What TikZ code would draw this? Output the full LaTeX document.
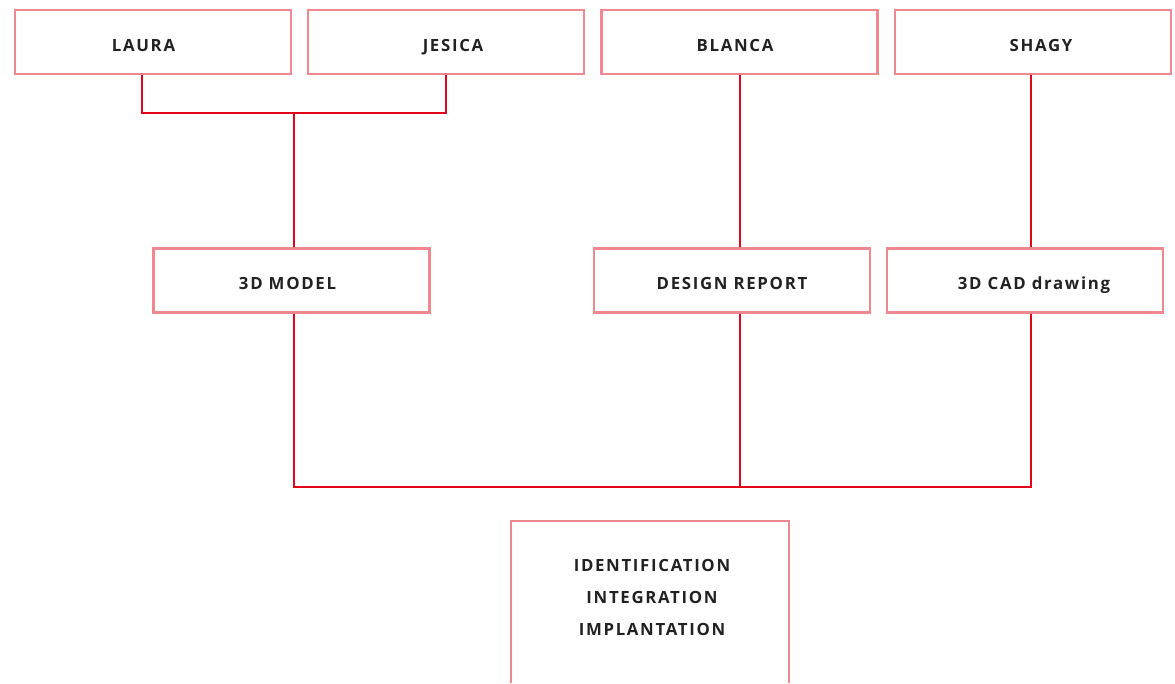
\documentclass[tikz,border=0pt]{standalone}
\usepackage{fontspec}
\setmainfont{Open Sans}[LetterSpace=10]
\usetikzlibrary{calc}
\definecolor{boxpink}{HTML}{F2888F}
\definecolor{linkred}{HTML}{E2061B}
\definecolor{txtgray}{HTML}{222222}
\tikzset{
    stage/.style={draw=boxpink, line width=2.4pt, minimum width=276pt, minimum height=64pt,
      text=txtgray, font=\fontsize{16.8}{32}\selectfont\bfseries},
    single/.style={text height=18pt, text depth=0pt},
    nudge/.style={execute at begin node={\hspace*{#1}}},
    link/.style={draw=linkred, line width=2.2pt},
  }
\begin{document}
\begin{tikzpicture}[x=1pt,y=-1pt]
    \useasboundingbox (0,0) rectangle (1175,683);
    %PEOPLE
    \node[stage,single,nudge=-19pt] (laura) at (153,42) {LAURA};
    \node[stage,single,nudge=14pt] (jesica) at (446,42) {JESICA};
    \node[stage,single,nudge=-9pt] (blanca) at (739.5,42) {BLANCA};
    \node[stage,single,nudge=16pt] (shagy) at (1033,42) {SHAGY};
    
    %OUTPUTS
    \node[stage,single,nudge=-8pt] (model) at (291.5,280.5) {3D MODEL};
    \node[stage,single] (report) at (732,280.5) {DESIGN REPORT};
    \node[stage,single,nudge=18pt] (cad) at (1025,280.5) {3D CAD drawing};
    
    %RESULT (open at the bottom)
    \node[stage, draw=none, align=center] (result) at (652,597) {IDENTIFICATION\\INTEGRATION\\IMPLANTATION};
    \draw[boxpink, line width=2.4pt] (511,683) -- (511,521) -- (789,521) -- (789,683);
    
    %JOINS
    \coordinate (joinA) at (294,113);
    \coordinate (joinB) at (740,487);
    \draw[link] ([xshift=-11pt]laura.south) |- (joinA) -| (jesica.south);
    \draw[link] (joinA) -- (joinA |- model.north);
    \draw[link] (blanca.south) ++(0.5,0) -- (joinB |- report.north);
    \draw[link] ([xshift=-2pt]shagy.south) -- ([xshift=-2pt]shagy.south |- cad.north);
    \draw[link] (joinA |- model.south) |- (joinB) -| ([xshift=6pt]cad.south);
    \draw[link] (joinB |- report.south) -- (joinB);
\end{tikzpicture}
\end{document}
